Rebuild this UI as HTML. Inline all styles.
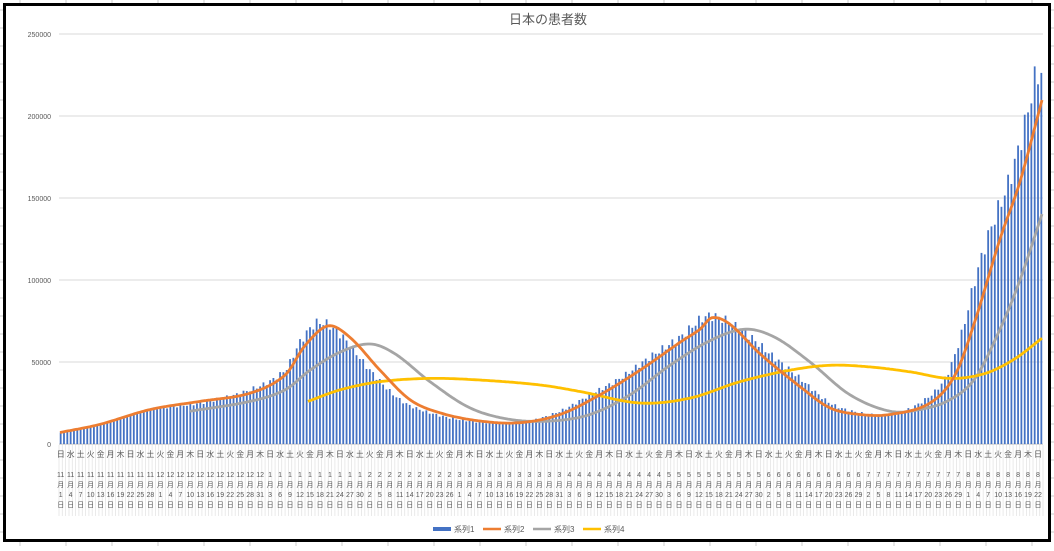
<!DOCTYPE html>
<html><head><meta charset="utf-8"><style>
html,body{margin:0;padding:0;background:#fff;}
body{width:1054px;height:546px;overflow:hidden;}
svg text{font-family:"Liberation Sans","Noto Sans CJK JP",sans-serif;}
</style></head><body>
<svg id="s" width="1054" height="546" xmlns="http://www.w3.org/2000/svg"></svg>
<script>
const S=document.getElementById('s');let h='';
// outer spreadsheet grid ticks
for(let x=20;x<1054;x+=46){h+=`<line x1="${x}" y1="0" x2="${x}" y2="3" stroke="#ccc"/>`;h+=`<line x1="${x}" y1="541" x2="${x}" y2="546" stroke="#ccc"/>`;}
for(let y=10;y<546;y+=18){h+=`<line x1="0" y1="${y}" x2="3" y2="${y}" stroke="#ccc"/>`;h+=`<line x1="1051" y1="${y}" x2="1054" y2="${y}" stroke="#ccc"/>`;}
h+=`<rect x="4.5" y="4.5" width="1045" height="536" fill="#fff" stroke="#000" stroke-width="3"/>`;
h+=`<text x="548" y="24" font-size="13" fill="#595959" text-anchor="middle">日本の患者数</text>`;
const Y=v=>444-v*410/250000;
for(let i=0;i<=5;i++){const y=Y(i*50000);h+=`<line x1="59" y1="${y}" x2="1043" y2="${y}" stroke="#d9d9d9"/>`;h+=`<text x="51" y="${y+3}" font-size="7" fill="#595959" text-anchor="end">${i*50000}</text>`;}
const N=296,x0=59,W=984/N;const X=d=>x0+(d+0.5)*W;
function interp(pts,px){if(px<=pts[0][0])return pts[0][1];for(let i=0;i<pts.length-1;i++){const a=pts[i],b=pts[i+1];if(px<=b[0]){const p0=pts[Math.max(0,i-1)],p3=pts[Math.min(pts.length-1,i+2)];const t=(px-a[0])/(b[0]-a[0]);const m1=(b[1]-p0[1])/(b[0]-p0[0])*(b[0]-a[0]),m2=(p3[1]-a[1])/(p3[0]-a[0])*(b[0]-a[0]);const t2=t*t,t3=t2*t;return (2*t3-3*t2+1)*a[1]+(t3-2*t2+t)*m1+(-2*t3+3*t2)*b[1]+(t3-t2)*m2;}}return pts[pts.length-1][1];}
const s1=[[60,7000],[100,12000],[150,21000],[200,25000],[250,33000],[285,45000],[300,62000],[318,74000],[340,67000],[370,45000],[400,27000],[430,19000],[470,14000],[520,13000],[560,20000],[590,30000],[620,40000],[650,53000],[680,65000],[708,78000],[740,70000],[770,55000],[800,40000],[830,25000],[860,19000],[890,18000],[920,25000],[945,40000],[962,68000],[975,100000],[990,130000],[1010,162000],[1025,195000],[1035,222000],[1043,228000]];
const s2=[[60,7000],[100,12000],[150,21000],[200,26000],[250,31000],[285,42000],[305,60000],[328,72000],[350,65000],[380,45000],[410,27000],[440,19000],[480,14000],[520,13000],[560,18000],[600,30000],[640,45000],[680,62000],[700,70000],[712,77000],[730,73000],[760,55000],[800,35000],[830,22000],[860,18000],[890,18000],[930,25000],[955,42000],[975,75000],[1000,125000],[1020,160000],[1043,212000]];
const s3=[[190,20000],[250,26000],[285,33000],[310,45000],[340,56000],[370,61000],[395,55000],[430,38000],[470,22000],[510,15000],[550,14000],[590,18000],[630,30000],[670,48000],[710,63000],[745,70000],[775,65000],[810,50000],[850,30000],[890,20000],[920,21000],[950,27000],[975,40000],[1000,70000],[1020,100000],[1043,142000]];
const s4=[[308,26000],[340,33000],[380,38000],[430,40000],[480,39000],[540,36000],[580,32000],[640,25000],[690,28000],[740,38000],[790,45000],[830,48000],[870,47000],[910,44000],[950,40000],[985,43000],[1015,52000],[1043,65000]];
let bars='';
for(let d=0;d<N;d++){const x=X(d);let v=interp(s1,x)*(1+0.04*Math.sin(d*2.3));bars+=`<rect x="${(x-0.9).toFixed(2)}" y="${Y(v).toFixed(1)}" width="1.8" height="${(444-Y(v)).toFixed(1)}" fill="#4472C4"/>`;}
h+=bars;
function line(pts,c){let p='';for(let x=pts[0][0];x<=pts[pts.length-1][0];x+=2){p+=(p?'L':'M')+x+','+Y(interp(pts,x)).toFixed(1);}return `<path d="${p}" fill="none" stroke="${c}" stroke-width="2.8" stroke-linejoin="round"/>`;}
h+=line(s3,'#A5A5A5')+line(s4,'#FFC000')+line(s2,'#ED7D31');
h+=`<line x1="59" y1="444.5" x2="1043" y2="444.5" stroke="#d9d9d9"/>`;
// ticks
for(let d=0;d<=N;d++){const x=x0+d*W;h+=`<line x1="${x.toFixed(1)}" y1="445" x2="${x.toFixed(1)}" y2="516" stroke="#e4e4e4" stroke-width="0.8"/>`;}
const wd=['日','月','火','水','木','金','土'];
const start=new Date(2020,10,1);
for(let d=0;d<N;d+=3){const dt=new Date(start.getTime()+d*86400000);const x=X(d).toFixed(1);const c='#595959';
h+=`<text x="${x}" y="457" font-size="8" fill="${c}" text-anchor="middle">${wd[dt.getDay()]}</text>`;
h+=`<text x="${x}" y="477" font-size="7" fill="${c}" text-anchor="middle">${dt.getMonth()+1}</text>`;
h+=`<text x="${x}" y="487" font-size="7" fill="${c}" text-anchor="middle">月</text>`;
h+=`<text x="${x}" y="497" font-size="7" fill="${c}" text-anchor="middle">${dt.getDate()}</text>`;
h+=`<text x="${x}" y="507" font-size="7" fill="${c}" text-anchor="middle">日</text>`;}
// legend
const L=[['系列1','#4472C4',433,'rect'],['系列2','#ED7D31',483,'l'],['系列3','#A5A5A5',533,'l'],['系列4','#FFC000',583,'l']];
for(const [t,c,x,k] of L){if(k=='rect')h+=`<rect x="${x}" y="527" width="18" height="4" fill="${c}"/>`;else h+=`<line x1="${x}" y1="529" x2="${x+18}" y2="529" stroke="${c}" stroke-width="2.5"/>`;h+=`<text x="${x+21}" y="532" font-size="8" fill="#595959">${t}</text>`;}
S.innerHTML=h;
</script>
</body></html>
